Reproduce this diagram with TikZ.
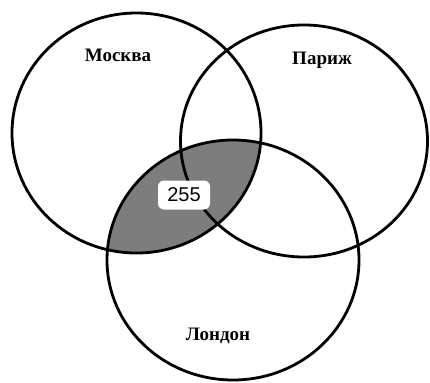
\documentclass[tikz,border=0pt]{standalone}
\usepackage{fontspec}
\setmainfont{Liberation Serif}
\setsansfont{Liberation Sans}
\definecolor{lensgray}{RGB}{125,125,125}
\tikzset{
  ring/.style={line width=2.8pt, draw=black},
  city/.style={font=\fontsize{19}{22}\selectfont\bfseries, inner sep=0pt},
  count/.style={fill=white, rounded corners=6pt, font=\sffamily\fontsize{20}{24}\selectfont, minimum width=52pt, minimum height=29pt, inner sep=0pt}
}
\begin{document}
\begin{tikzpicture}[x=1pt,y=-1pt]
\useasboundingbox (0,0) rectangle (430,382);
\coordinate (cm) at (136.5,133);
\coordinate (cp) at (304,141);
\coordinate (cl) at (233,260);
\begin{scope}
\clip (cm) ellipse [x radius=124.5pt, y radius=120pt];
\fill[lensgray] (cl) ellipse [x radius=126pt, y radius=120pt];
\end{scope}
\draw[ring] (cm) ellipse [x radius=124.5pt, y radius=120pt];
\draw[ring] (cp) ellipse [x radius=123.5pt, y radius=116pt];
\draw[ring] (cl) ellipse [x radius=126pt, y radius=120pt];
\node[city] (moscow) at (118,55) {Москва};
\node[city] (paris) at (322,60) {Париж};
\node[city] (london) at (218,336) {Лондон};
\node[count] (n255) at (184,195) {255};
\end{tikzpicture}
\end{document}
